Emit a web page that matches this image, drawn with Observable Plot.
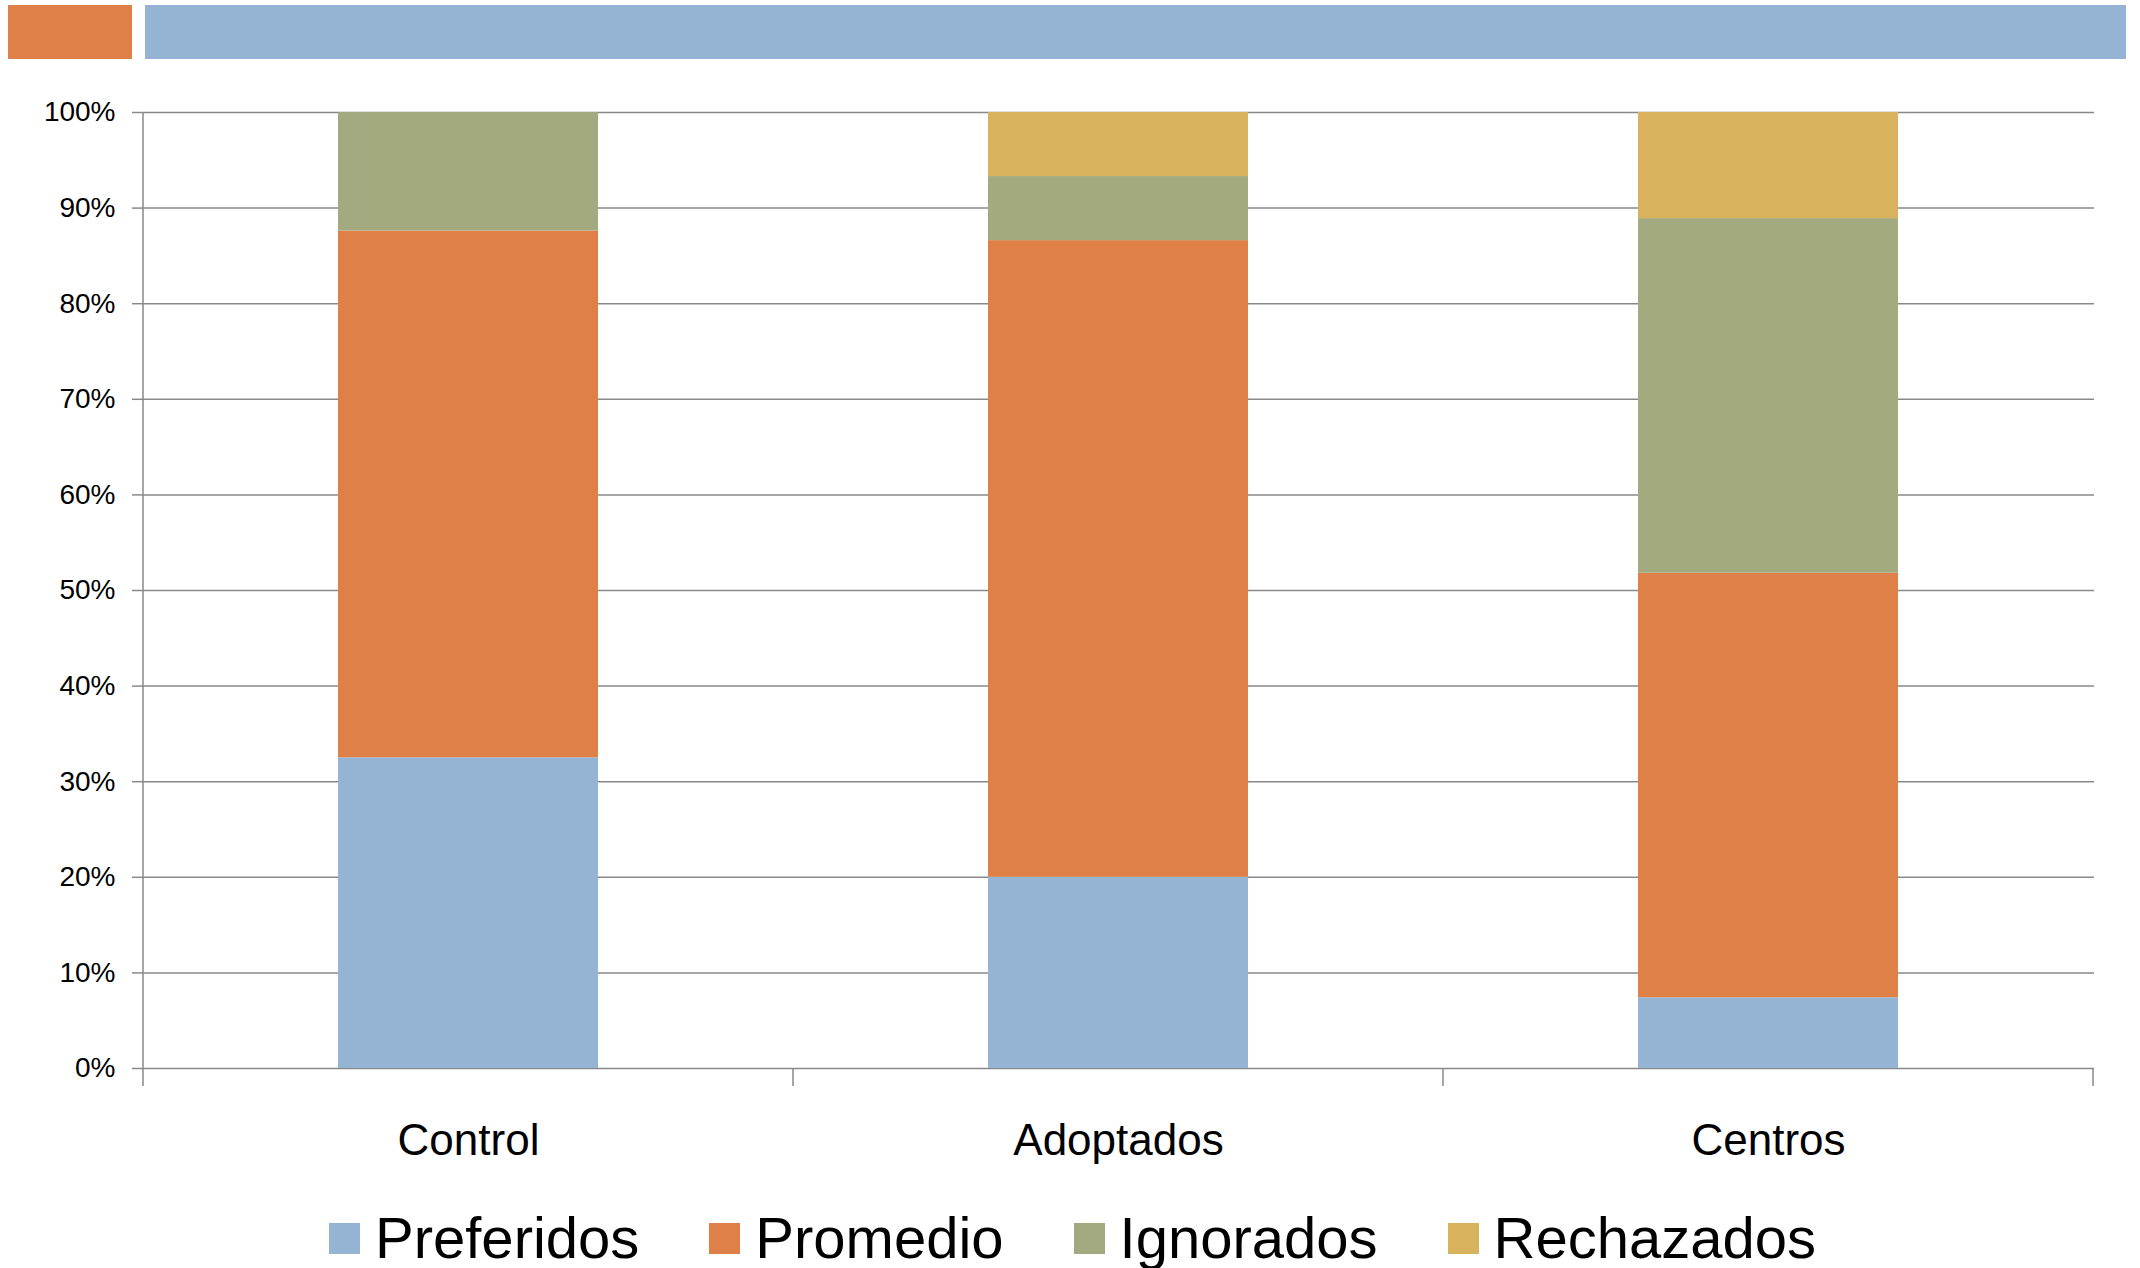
<!DOCTYPE html>
<html><head><meta charset="utf-8">
<script src="https://cdn.jsdelivr.net/npm/d3@7"></script>
<script src="https://cdn.jsdelivr.net/npm/@observablehq/plot@0.6"></script>
<style>
html,body{margin:0;padding:0;background:#fff;}
body{width:2140px;height:1268px;position:relative;overflow:hidden;font-family:"Liberation Sans",Arial,sans-serif;}
.band{position:absolute;top:5px;height:54px;}
#chart{position:absolute;left:0;top:60px;}
#legend{position:absolute;left:329px;top:1209px;height:58px;display:flex;align-items:center;}
.item{display:flex;align-items:center;margin-right:70px;}
.sw{width:31px;height:31px;margin-right:15px;}
.lab{font-size:58px;line-height:58px;color:#000;white-space:nowrap;}
</style></head><body>
<div class="band" style="left:8px;width:124px;background:#DE8048"></div>
<div class="band" style="left:145px;width:1981px;background:#95B4D3"></div>
<div id="chart"></div>
<div id="legend"></div>
<script>
const categories = ["Control", "Adoptados", "Centros"];
const series = ["Preferidos", "Promedio", "Ignorados", "Rechazados"];
const colors = ["#95B4D3", "#DE8048", "#A4AA80", "#D8B25D"];
const preferidos = [32.5, 20.0, 7.4];
const promedio = [55.1, 66.6, 44.4];
const ignorados = [12.4, 6.7, 37.1];
const rechazados = [0, 6.7, 11.1];
const yTicks = [0, 10, 20, 30, 40, 50, 60, 70, 80, 90, 100];

const valuesBySeries = [preferidos, promedio, ignorados, rechazados];
const data = [];
series.forEach((s, i) => {
  categories.forEach((c, j) => {
    data.push({series: s, category: c, value: valuesBySeries[i][j]});
  });
});

const gray = "#898989";
const chart = Plot.plot({
  width: 2140,
  height: 1130,
  marginTop: 52,
  marginBottom: 122,
  marginLeft: 142,
  marginRight: 46,
  style: {fontFamily: "Liberation Sans, Arial, sans-serif", background: "transparent", overflow: "visible", color: "#000"},
  x: {domain: categories, paddingInner: 0.6, paddingOuter: 0.3, label: null},
  y: {domain: [0, 100], label: null},
  color: {domain: series, range: colors},
  marks: [
    Plot.gridY(yTicks, {stroke: gray, strokeOpacity: 1, strokeWidth: 1.5}),
    Plot.barY(data, {x: "category", y: "value", fill: "series"}),
    Plot.axisY(yTicks, {tickSize: 10, tickPadding: 17, tickFormat: d => d + "%", fontSize: 28, stroke: gray, strokeWidth: 1.5, fill: "#000", label: null}),
    Plot.axisX({tickSize: 0, tickPadding: 55, fontSize: 44, fill: "#000", label: null})
  ]
});
document.getElementById("chart").appendChild(chart);

// category boundary ticks and left axis line, from the chart's own scales
const xs = chart.scale("x");
const ysd = chart.scale("y");
const xb = xs.apply ? (v => xs.apply(v)) : (() => {
  const s = d3.scaleBand().domain(xs.domain).range(xs.range).paddingInner(xs.paddingInner).paddingOuter(xs.paddingOuter).align(xs.align ?? 0.5);
  return v => s(v);
})();
const yb = ysd.apply ? (v => ysd.apply(v)) : (() => {
  const s = d3.scaleLinear().domain(ysd.domain).range(ysd.range);
  return v => s(v);
})();
const step = xs.step, bw = xs.bandwidth;
const bounds = categories.map(c => xb(c) - (step - bw) / 2);
bounds.push(xb(categories[categories.length - 1]) + bw + (step - bw) / 2);
const y0 = yb(0), y100 = yb(100);
const g = d3.select(chart).append("g");
bounds.forEach((bx, i) => {
  g.append("line")
    .attr("x1", bx).attr("x2", bx)
    .attr("y1", i === 0 ? y100 : y0).attr("y2", y0 + 18)
    .attr("stroke", gray).attr("stroke-width", 1.5);
});

// legend
const legend = d3.select("#legend");
series.forEach((s, i) => {
  const it = legend.append("div").attr("class", "item");
  it.append("div").attr("class", "sw").style("background", colors[i]);
  it.append("div").attr("class", "lab").text(s);
});
</script>
</body></html>
